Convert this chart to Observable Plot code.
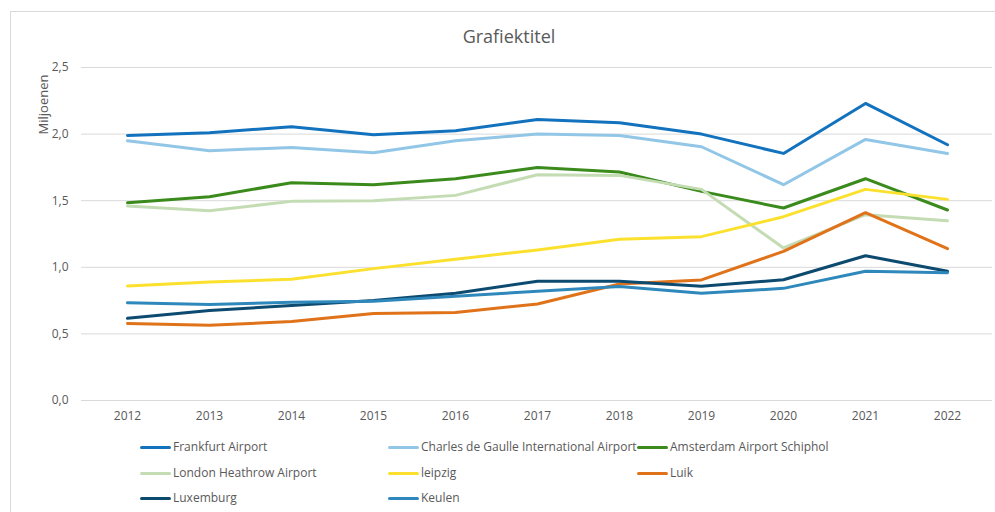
<!DOCTYPE html>
<html>
<head>
<meta charset="utf-8">
<script src="https://cdn.jsdelivr.net/npm/d3@7"></script>
<script src="https://cdn.jsdelivr.net/npm/@observablehq/plot@0.6"></script>
<style>
  html, body { margin: 0; padding: 0; background: #fff; width: 995px; height: 512px; overflow: hidden; }
  #frame { position: absolute; left: 10px; top: 11px; width: 1000px; height: 520px; border: 1px solid #d9d9d9; box-sizing: border-box; }
  #title { position: absolute; left: 359px; width: 300px; top: 24px; height: 24px; line-height: 24px; text-align: center;
           font-family: "Open Sans", sans-serif; font-size: 18px; color: #595959; }
  #chart { position: absolute; left: 0; top: 55px; }
  #legend { position: absolute; left: 0; top: 0; font-family: "Open Sans", sans-serif; font-size: 12px; color: #595959; }
  .item { position: absolute; height: 16px; line-height: 16px; white-space: nowrap; display: flex; align-items: center; }
  .sw { display: inline-block; width: 31px; height: 3px; border-radius: 2px; margin-right: 2px; }
</style>
</head>
<body>
<div id="frame"></div>
<div id="title">Grafiektitel</div>
<div id="chart"></div>
<div id="legend"></div>
<script>
const years = ["2012","2013","2014","2015","2016","2017","2018","2019","2020","2021","2022"];
const seriesNames = ["Frankfurt Airport","Charles de Gaulle International Airport","Amsterdam Airport Schiphol","London Heathrow Airport","leipzig","Luik","Luxemburg","Keulen"];
const seriesColors = ["#1272bd","#92c6e6","#3b8a1c","#c4dcb3","#fbe12e","#e0731a","#0d4a70","#2f88bb"];
const frankfurt = [1.99, 2.01, 2.055, 1.995, 2.025, 2.11, 2.085, 2.0, 1.855, 2.23, 1.92];
const cdg       = [1.95, 1.875, 1.9, 1.86, 1.95, 2.0, 1.99, 1.905, 1.62, 1.96, 1.855];
const amsterdam = [1.485, 1.53, 1.635, 1.62, 1.665, 1.75, 1.715, 1.57, 1.445, 1.665, 1.43];
const heathrow  = [1.46, 1.425, 1.495, 1.5, 1.54, 1.695, 1.69, 1.585, 1.145, 1.395, 1.35];
const leipzig   = [0.86, 0.89, 0.91, 0.99, 1.06, 1.13, 1.21, 1.23, 1.38, 1.585, 1.51];
const luik      = [0.578, 0.565, 0.593, 0.653, 0.66, 0.725, 0.875, 0.905, 1.12, 1.41, 1.14];
const luxemburg = [0.617, 0.675, 0.713, 0.75, 0.805, 0.895, 0.895, 0.857, 0.907, 1.087, 0.97];
const keulen    = [0.733, 0.72, 0.737, 0.745, 0.782, 0.82, 0.855, 0.805, 0.842, 0.97, 0.96];
const yTicks = [0, 0.5, 1.0, 1.5, 2.0, 2.5];
const yLabel = "Miljoenen";

const seriesValues = [frankfurt, cdg, amsterdam, heathrow, leipzig, luik, luxemburg, keulen];
const rows = [];
seriesNames.forEach((name, i) => {
  years.forEach((yr, j) => rows.push({series: name, year: yr, value: seriesValues[i][j]}));
});

const fmt = d => d.toFixed(1).replace(".", ",");

const chart = Plot.plot({
  width: 995,
  height: 370,
  marginLeft: 81,
  marginRight: 3,
  marginTop: 12,
  marginBottom: 25,
  style: { fontFamily: "'Open Sans', sans-serif", fontSize: "12px", color: "#595959", background: "transparent" },
  x: { type: "point", domain: years, padding: 0.5, label: null },
  y: { domain: [0, 2.5], ticks: yTicks, label: null },
  color: { domain: seriesNames, range: seriesColors },
  marks: [
    Plot.ruleY(yTicks, { stroke: "#d9d9d9", strokeWidth: 1 }),
    Plot.axisY({ ticks: yTicks, tickFormat: fmt, tickSize: 0, tickPadding: 13, label: null, fill: "#595959", fontSize: 12 }),
    Plot.axisX({ tickSize: 0, tickPadding: 11, label: null, fill: "#595959", fontSize: 12 }),
    Plot.text([yLabel], { frameAnchor: "top-left", dx: -43, dy: 37, rotate: -90, textAnchor: "middle", fontSize: 13, fill: "#595959" }),
    Plot.lineY(rows, { x: "year", y: "value", z: "series", stroke: "series", strokeWidth: 3, strokeLinejoin: "round", strokeLinecap: "round" })
  ]
});
document.getElementById("chart").appendChild(chart);

const legend = document.getElementById("legend");
const colX = [140, 388, 637];
const rowY = [447, 473, 498];
seriesNames.forEach((name, i) => {
  const el = document.createElement("div");
  el.className = "item";
  el.style.left = colX[i % 3] + "px";
  el.style.top = (rowY[Math.floor(i / 3)] - 8) + "px";
  const sw = document.createElement("span");
  sw.className = "sw";
  sw.style.background = seriesColors[i];
  el.appendChild(sw);
  el.appendChild(document.createTextNode(name));
  legend.appendChild(el);
});
</script>
</body>
</html>
